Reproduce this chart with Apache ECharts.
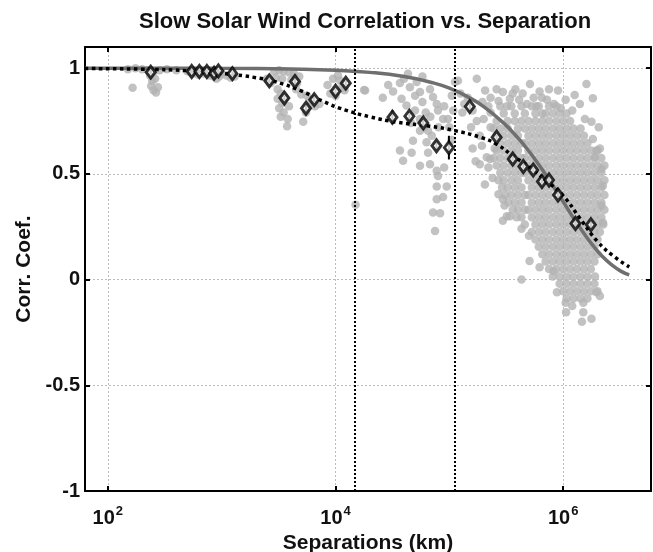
<!DOCTYPE html>
<html><head><meta charset="utf-8">
<script src="https://cdn.jsdelivr.net/npm/echarts@6/dist/echarts.min.js"></script>
<style>html,body{margin:0;padding:0;background:#fff}#c{width:653px;height:552px}</style>
</head><body><div id="c"></div>
<script>
const FF = '"Liberation Sans", Arial, Helvetica, sans-serif';
const titleText = 'Slow Solar Wind Correlation vs. Separation';
const xName = 'Separations (km)';
const yName = 'Corr. Coef.';
const xMin = 63, xMax = 5.9e6;
const yMin = -1, yMax = 1.1, yStep = 0.5;
const vLines = [1.47e4, 1.11e5];

// solid gray fit curve [km, corr]
const fitSolid = [[63,1.0],[1000,0.999],[5000,0.995],[1e4,0.99],[2e4,0.98],[4e4,0.96],[7e4,0.932],[1e5,0.905],[1.5e5,0.86],[2e5,0.818],[3e5,0.74],[4e5,0.67],[5e5,0.607],[6e5,0.549],[7e5,0.497],[8e5,0.449],[1e6,0.368],[1.2e6,0.30],[1.5e6,0.223],[1.8e6,0.165],[2.2e6,0.11],[2.7e6,0.067],[3.2e6,0.04],[3.8e6,0.022]];
// dotted black fit curve
const fitDotted = [[63,0.998],[200,0.995],[500,0.988],[1000,0.975],[2000,0.955],[3000,0.935],[5000,0.892],[8000,0.84],[1.2e4,0.803],[2e4,0.77],[3.4e4,0.745],[6.8e4,0.725],[1.1e5,0.705],[1.9e5,0.672],[2.6e5,0.64],[3.6e5,0.586],[5.1e5,0.53],[7.1e5,0.467],[1e6,0.396],[1.4e6,0.29],[2.0e6,0.18],[2.75e6,0.112],[3.8e6,0.06]];
// binned means [km, corr, error]
const binMeans = [[238,0.981,0.01],[545,0.984,0.008],[637,0.984,0.008],[741,0.984,0.008],[858,0.976,0.01],[935,0.987,0.008],[1242,0.974,0.01],[2620,0.94,0.01],[3550,0.859,0.012],[4400,0.937,0.012],[5500,0.81,0.015],[6500,0.851,0.012],[1.0e4,0.891,0.012],[1.23e4,0.929,0.012],[3.16e4,0.768,0.032],[4.45e4,0.773,0.02],[5.9e4,0.741,0.015],[7.7e4,0.633,0.02],[9.9e4,0.624,0.056],[1.51e5,0.818,0.015],[2.6e5,0.673,0.012],[3.6e5,0.57,0.01],[4.46e5,0.535,0.01],[5.45e5,0.518,0.01],[6.5e5,0.464,0.01],[7.5e5,0.471,0.01],[9.0e5,0.40,0.012],[1.28e6,0.265,0.015],[1.75e6,0.259,0.015]];

// individual correlations, outer/sparse parts
const sparsePts = [
[150,0.995],[165,0.907],[175,1.0],[200,0.995],[225,0.99],[235,0.965],[245,0.94],[240,0.915],[252,0.895],[265,0.885],[275,0.91],[260,0.95],[250,0.98],[285,0.99],[330,0.995],[400,0.99],[500,0.985],[560,0.975],[620,0.97],[700,0.975],[780,0.965],[850,0.96],[900,0.95],[950,0.96],[1000,0.975],[1100,0.965],[1200,0.955],[1300,0.96],
[2500,0.95],[2700,0.93],[2900,0.985],[3200,0.99],[3500,0.985],[3900,0.98],[4300,0.975],[4800,0.96],[3000,0.955],[3400,0.95],[4100,0.945],[4600,0.93],[3100,0.9],[3300,0.88],[3100,0.855],[3400,0.835],[3200,0.81],[3600,0.86],[3900,0.82],[3500,0.79],[3300,0.77],[3800,0.76],[3750,0.725],[5200,0.747],[4500,0.9],[5000,0.875],[5600,0.87],[6000,0.85],[5800,0.82],[6600,0.82],[7200,0.83],[5500,0.79],
[8500,0.92],[9500,0.95],[1.05e4,0.965],[1.1e4,0.94],[1.15e4,0.91],[1.0e4,0.87],[1.2e4,0.895],[9000,0.88],[1.78e4,0.897],[1.5e4,0.354],
[1.82e4,0.894],[2.6e4,0.86],[2.9e4,0.92],[3.2e4,0.89],[3.68e4,0.93],[4.0e4,0.95],[4.33e4,0.973],[5.8e4,0.96],[3.8e4,0.855],[4.2e4,0.823],[4.5e4,0.91],[5.0e4,0.87],[4.99e4,0.80],[5.52e4,0.887],[5.16e4,0.935],[5.8e4,0.84],[6.2e4,0.79],[6.8e4,0.77],[5.5e4,0.76],[4.6e4,0.74],[6.0e4,0.72],[6.76e4,0.90],[7.18e4,0.864],[7.74e4,0.83],[7.94e4,0.80],[8.8e4,0.76],[9.0e4,0.82],[8.0e4,0.72],[1.0e5,0.72],[1.05e5,0.66],[7.0e4,0.68],[6.3e4,0.65],[6.49e4,0.704],[5.52e4,0.704],[4.79e4,0.657],[3.68e4,0.61],[4.66e4,0.60],[6.5e4,0.6],[3.92e4,0.562],[5.52e4,0.538],[6.76e4,0.546],[7.74e4,0.515],[7.94e4,0.49],[7.74e4,0.44],[9.47e4,0.44],[8.8e4,0.39],[7.74e4,0.38],[9.0e4,0.53],[7.18e4,0.317],[8.28e4,0.314],[7.48e4,0.23],[1.05e5,0.87],[1.12e5,0.935],[1.19e5,0.94],[1.08e5,0.80],[9.7e4,0.76],
[1.25e5,0.88],[1.35e5,0.83],[1.3e5,0.79],[1.45e5,0.86],[1.6e5,0.80],[1.55e5,0.72],[1.74e5,0.95],[1.74e5,0.75],[1.85e5,0.68],[1.93e5,0.633],[2.0e5,0.76],[2.06e5,0.894],[2.13e5,0.578],[2.2e5,0.82],[2.3e5,0.72],[2.5e5,0.62],[2.2e5,0.53],[2.4e5,0.48],[1.7e5,0.56],[1.6e5,0.62],[1.85e5,0.546],[2.28e5,0.57],[2.05e5,0.45],[2.7e5,0.404],[2.95e5,0.38],[3.05e5,0.35],[3.2e5,0.30],[3.4e5,0.30],[2.95e5,0.278],[4.3e5,0.24],[5.0e5,0.207],
[2.6e5,0.90],[2.95e5,0.887],[3.4e5,0.855],[2.3e5,0.86],[2.7e5,0.845],[3.2e5,0.82],[3.6e5,0.88],[3.8e5,0.9],[4.1e5,0.85],[4.4e5,0.88],[4.8e5,0.83],[5.1e5,0.925],[5.5e5,0.86],[5.8e5,0.82],[6.2e5,0.89],[6.5e5,0.86],[7.2e5,0.85],[7.5e5,0.9],[8.3e5,0.83],[9.0e5,0.894],[9.5e5,0.81],[1.05e6,0.85],[1.2e6,0.8],[1.26e6,0.873],[1.4e6,0.83],[1.6e6,0.925],[1.55e6,0.76],[1.82e6,0.858],[1.77e6,0.747],[2.05e6,0.72],[1.82e6,0.665],[1.96e6,0.61],[2.1e6,0.62],[1.9e6,0.58],[2.17e6,0.523],[2.23e6,0.444],[2.17e6,0.35],[2.23e6,0.27],[2.3e5,0.79],[1.95e5,0.84],
[1.05e6,-0.11],[1.06e6,-0.155],[1.5e6,-0.11],[1.5e6,-0.155],[1.46e6,-0.2],[1.77e6,-0.185],[1.96e6,-0.06],[2.1e6,-0.078],[4.3e5,0.0],[6.2e5,0.058],[8.2e5,0.04],[5.06e5,0.088],[1.2e6,-0.125],[8.8e5,-0.06]
];
// dense core, row by row: [corr, [km...]]
const coreRows = [
[0.82,[2.8e5,3.5e5,4.3e5,5.3e5,6.1e5,7.5e5,8.7e5]],
[0.785,[3.0e5,3.75e5,4.6e5,5.7e5,6.55e5,7.0e5,8.1e5,9.3e5,1.07e6]],
[0.75,[2.6e5,3.25e5,3.75e5,4.3e5,4.95e5,5.7e5,6.55e5,7.5e5,8.7e5,1.0e6,1.15e6]],
[0.715,[2.45e5,2.8e5,3.25e5,4.0e5,4.6e5,5.3e5,6.1e5,7.0e5,8.1e5,9.3e5,1.07e6,1.23e6,1.42e6]],
[0.68,[2.6e5,3.0e5,3.5e5,4.0e5,4.95e5,5.7e5,6.55e5,7.5e5,8.7e5,1.0e6,1.15e6,1.32e6,1.52e6]],
[0.645,[2.8e5,3.25e5,3.75e5,4.3e5,4.6e5,5.3e5,6.1e5,7.0e5,8.1e5,9.3e5,1.07e6,1.23e6,1.42e6,1.63e6]],
[0.61,[2.6e5,3.0e5,3.5e5,4.0e5,4.95e5,5.7e5,6.55e5,7.5e5,8.7e5,1.0e6,1.15e6,1.32e6,1.52e6,1.75e6,2.0e6]],
[0.575,[2.45e5,2.8e5,3.25e5,3.75e5,4.3e5,4.6e5,5.3e5,6.1e5,7.0e5,8.1e5,9.3e5,1.07e6,1.23e6,1.42e6,1.63e6,1.88e6,2.16e6]],
[0.54,[2.6e5,3.0e5,3.5e5,4.0e5,4.95e5,5.7e5,6.55e5,7.5e5,8.7e5,1.0e6,1.15e6,1.32e6,1.52e6,1.75e6,2.0e6,2.3e6]],
[0.505,[2.8e5,3.25e5,3.75e5,4.3e5,4.6e5,5.3e5,6.1e5,7.0e5,8.1e5,9.3e5,1.07e6,1.23e6,1.42e6,1.63e6,1.88e6,2.16e6]],
[0.47,[2.7e5,3.0e5,3.5e5,4.0e5,4.95e5,5.7e5,6.55e5,7.5e5,8.7e5,1.0e6,1.15e6,1.32e6,1.52e6,1.75e6,2.0e6,2.3e6]],
[0.435,[2.9e5,3.25e5,3.75e5,4.3e5,5.3e5,6.1e5,7.0e5,8.1e5,9.3e5,1.07e6,1.23e6,1.42e6,1.63e6,1.88e6,2.16e6]],
[0.40,[3.1e5,3.5e5,4.0e5,4.6e5,4.95e5,5.7e5,6.55e5,7.5e5,8.7e5,1.0e6,1.15e6,1.32e6,1.52e6,1.75e6,2.0e6,2.3e6]],
[0.365,[3.3e5,3.75e5,4.3e5,5.3e5,6.1e5,7.0e5,8.1e5,9.3e5,1.07e6,1.23e6,1.42e6,1.63e6,1.88e6,2.16e6]],
[0.33,[3.6e5,4.0e5,4.6e5,4.95e5,5.7e5,6.55e5,7.5e5,8.7e5,1.0e6,1.15e6,1.32e6,1.52e6,1.75e6,2.0e6,2.3e6]],
[0.295,[3.9e5,4.3e5,5.3e5,6.1e5,7.0e5,8.1e5,9.3e5,1.07e6,1.23e6,1.42e6,1.63e6,1.88e6,2.16e6]],
[0.26,[4.6e5,5.7e5,6.55e5,7.5e5,8.7e5,1.0e6,1.15e6,1.32e6,1.52e6,1.75e6,2.0e6,2.25e6]],
[0.225,[5.3e5,6.1e5,7.0e5,8.1e5,9.3e5,1.07e6,1.23e6,1.42e6,1.63e6,1.88e6,2.1e6]],
[0.19,[5.7e5,6.55e5,7.5e5,8.7e5,1.0e6,1.15e6,1.32e6,1.52e6,1.75e6,2.0e6]],
[0.155,[6.1e5,7.0e5,8.1e5,9.3e5,1.07e6,1.23e6,1.42e6,1.63e6,1.88e6]],
[0.12,[6.55e5,7.5e5,8.7e5,1.0e6,1.15e6,1.32e6,1.52e6,1.75e6,2.0e6]],
[0.085,[7.0e5,8.1e5,9.3e5,1.07e6,1.23e6,1.42e6,1.63e6,1.88e6]],
[0.05,[7.5e5,8.7e5,1.0e6,1.15e6,1.32e6,1.52e6,1.75e6]],
[0.015,[8.1e5,9.3e5,1.07e6,1.23e6,1.42e6,1.63e6,1.9e6]],
[-0.02,[9.3e5,1.07e6,1.23e6,1.42e6,1.63e6,1.88e6]],
[-0.055,[1.0e6,1.15e6,1.32e6,1.52e6,1.75e6,2.0e6]],
[-0.09,[1.07e6,1.23e6,1.42e6,1.63e6]]
];

const corePts = [];
coreRows.forEach(r => r[1].forEach(x => corePts.push([x, r[0]])));
const allPts = sparsePts.concat(corePts);

const labelColor = '#111';
const frame = {color: '#000', width: 2};
function xLabel(v) {
  const l = Math.log10(v), e = Math.round(l);
  if (Math.abs(l - e) > 0.01) return '';
  return '{b|10}{s|' + e + '}';
}
const xRich = {
  b: {fontSize: 20, fontWeight: 'bold', fontFamily: FF, color: labelColor, verticalAlign: 'bottom', lineHeight: 22},
  s: {fontSize: 13, fontWeight: 'bold', fontFamily: FF, color: labelColor, verticalAlign: 'bottom', lineHeight: 13, padding: [0, 0, 10, 1]}
};
const grid = {color: '#bdbdbd', width: 1, type: [2, 2]};

const chart = echarts.init(document.getElementById('c'), null, {renderer: 'canvas'});
chart.setOption({
  animation: false,
  backgroundColor: '#fff',
  title: {text: titleText, left: 139, top: 11, padding: 0,
    textStyle: {fontFamily: FF, fontSize: 22, fontWeight: 'bold', color: labelColor}},
  grid: {left: 85, right: 2, top: 47, bottom: 61, outerBoundsMode: 'none', containLabel: false},
  xAxis: [
    {type: 'log', logBase: 100, min: xMin, max: xMax, position: 'bottom',
      name: xName, nameLocation: 'middle', nameGap: 38,
      nameTextStyle: {fontFamily: FF, fontSize: 21, fontWeight: 'bold', color: labelColor},
      axisLine: {show: true, onZero: false, lineStyle: frame},
      axisTick: {show: true, inside: true, length: 5, lineStyle: frame},
      axisLabel: {formatter: xLabel, rich: xRich, margin: 15},
      splitLine: {show: true, lineStyle: grid}},
    {type: 'log', logBase: 100, min: xMin, max: xMax, position: 'top',
      axisLine: {show: true, onZero: false, lineStyle: frame},
      axisTick: {show: true, inside: true, length: 5, lineStyle: frame},
      axisLabel: {show: false}, splitLine: {show: false}}
  ],
  yAxis: [
    {type: 'value', min: yMin, max: yMax, interval: yStep, position: 'left',
      name: yName, nameLocation: 'middle', nameGap: 48,
      nameTextStyle: {fontFamily: FF, fontSize: 21, fontWeight: 'bold', color: labelColor},
      axisLine: {show: true, onZero: false, lineStyle: frame},
      axisTick: {show: true, inside: true, length: 5, lineStyle: frame},
      axisLabel: {fontFamily: FF, fontSize: 20, fontWeight: 'bold', color: labelColor, margin: 5,
        formatter: v => (Math.abs(v - yMax) < 1e-6 ? '' : String(v))},
      splitLine: {show: true, lineStyle: grid}},
    {type: 'value', min: yMin, max: yMax, interval: yStep, position: 'right',
      axisLine: {show: true, onZero: false, lineStyle: frame},
      axisTick: {show: true, inside: true, length: 5, lineStyle: frame},
      axisLabel: {show: false}, splitLine: {show: false}}
  ],
  series: [
    {type: 'scatter', data: allPts, symbol: 'circle', symbolSize: 8.5,
      itemStyle: {color: '#b3b3b3'}, silent: true, z: 2},
    {type: 'line', data: fitSolid, smooth: true, showSymbol: false, symbol: 'none',
      lineStyle: {color: '#6f6f6f', width: 3.5}, z: 3, silent: true},
    {type: 'line', data: fitDotted, smooth: true, showSymbol: false, symbol: 'none',
      lineStyle: {color: '#000', width: 3.5, type: [3.5, 3.5]}, z: 4, silent: true,
      markLine: {silent: true, symbol: ['none', 'none'], label: {show: false},
        lineStyle: {color: '#000', width: 2, type: [2, 2]},
        data: vLines.map(v => ({xAxis: v}))}},
    {type: 'custom', data: binMeans, z: 5, silent: true,
      encode: {x: 0, y: 1},
      renderItem: (params, api) => {
        const x = api.value(0), y = api.value(1), e = api.value(2);
        const p1 = api.coord([x, y - e]), p2 = api.coord([x, y + e]);
        return {type: 'line', shape: {x1: p1[0], y1: p1[1], x2: p2[0], y2: p2[1]},
          style: {stroke: '#000', lineWidth: 2}};
      }},
    {type: 'scatter', data: binMeans.map(d => [d[0], d[1]]), symbol: 'diamond', symbolSize: [9, 12],
      itemStyle: {color: '#fff', borderColor: '#000', borderWidth: 3}, z: 6, silent: true}
  ]
});
</script></body></html>
